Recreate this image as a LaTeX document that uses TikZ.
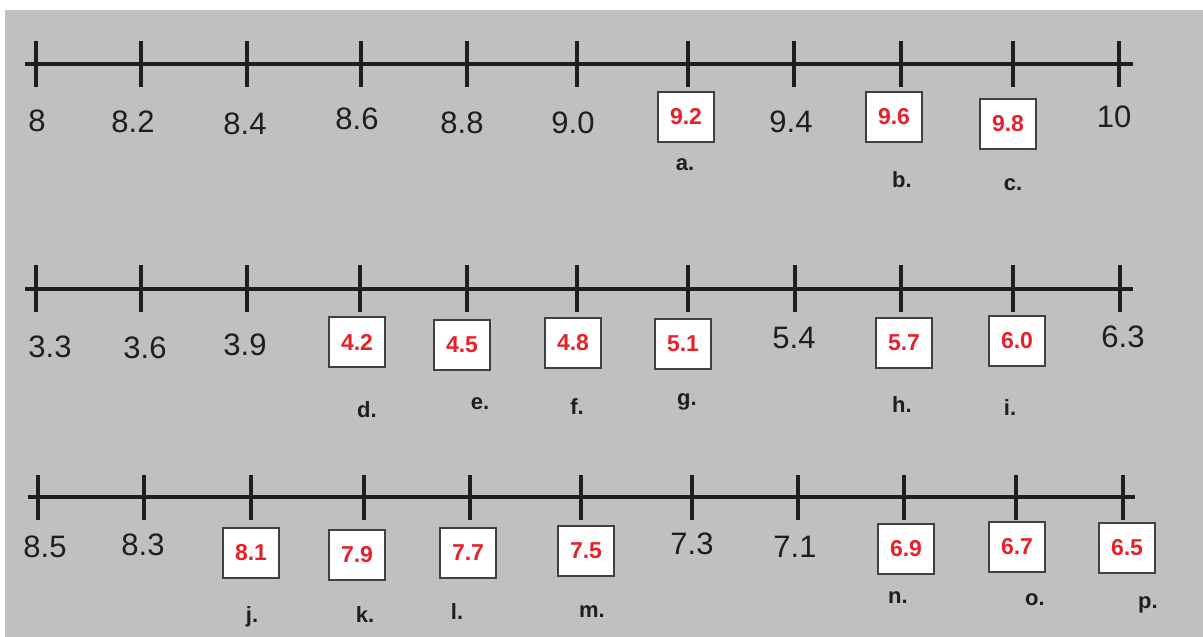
\documentclass[tikz,border=0pt]{standalone}
\usepackage{fontspec}
\setmainfont{Liberation Sans}
\definecolor{bg}{HTML}{C0C0C0}
\definecolor{ans}{HTML}{E8202A}
\definecolor{ink}{HTML}{1E1E1E}
\begin{document}
\begin{tikzpicture}[x=1pt,y=-1pt,
  axis/.style={line width=3.6pt,draw=ink},
  tick/.style={line width=3.8pt,draw=ink},
  val/.style={font=\fontsize{31}{31}\selectfont,text=ink,inner sep=0pt},
  ansbox/.style={draw=ink!85,line width=1.5pt,fill=white,minimum width=56pt,minimum height=50pt,inner sep=0pt,font=\fontsize{23}{23}\selectfont\bfseries,text=ans},
  lett/.style={font=\fontsize{22}{22}\selectfont\bfseries,text=ink,inner sep=0pt}]
\useasboundingbox (0,0) rectangle (1203,637);
\fill[white] (0,0) rectangle (1203,637);
\fill[bg] (5,10) rectangle (1203,637);
% ---------- row 1 ----------
\coordinate (r1s) at (25,64);
\coordinate (r1e) at (1133,64);
\draw[axis] (r1s) -- (r1e);
\foreach \x in {36,141,247,361,467,577,688,794,901,1013,1119}
  \draw[tick] (\x,41) -- (\x,87);
\node[val] (v8) at (37,121) {8};
\node[val] (v82) at (133,122) {8.2};
\node[val] (v84) at (245,124) {8.4};
\node[val] (v86) at (357,119) {8.6};
\node[val] (v88) at (462,123) {8.8};
\node[val] (v90) at (573,123) {9.0};
\node[ansbox] (ba) at (686,117) {9.2};
\node[val] (v94) at (791,122) {9.4};
\node[ansbox] (bb) at (894,117) {9.6};
\node[ansbox] (bc) at (1008,124) {9.8};
\node[val] (v10) at (1114,117) {10};
\node[lett] (la) at (685,165) {a.};
\node[lett] (lb) at (902,180) {b.};
\node[lett] (lc) at (1013,185) {c.};
% ---------- row 2 ----------
\coordinate (r2s) at (25,289);
\coordinate (r2e) at (1133,289);
\draw[axis] (r2s) -- (r2e);
\foreach \x in {36,141,247,360,467,577,688,795,901,1013,1120}
  \draw[tick] (\x,265) -- (\x,312);
\node[val] (v33) at (50,347) {3.3};
\node[val] (v36) at (145,348) {3.6};
\node[val] (v39) at (245,345) {3.9};
\node[ansbox] (bd) at (357,342) {4.2};
\node[ansbox] (be) at (462,345) {4.5};
\node[ansbox] (bf) at (573,343) {4.8};
\node[ansbox] (bg) at (683,344) {5.1};
\node[val] (v54) at (794,338) {5.4};
\node[ansbox] (bh) at (904,343) {5.7};
\node[ansbox] (bi) at (1017,341) {6.0};
\node[val] (v63) at (1123,337) {6.3};
\node[lett] (ld) at (367,410) {d.};
\node[lett] (le) at (480,404) {e.};
\node[lett] (lf) at (577,407) {f.};
\node[lett] (lg) at (687,402) {g.};
\node[lett] (lh) at (902,405) {h.};
\node[lett] (li) at (1010,408) {i.};
% ---------- row 3 ----------
\coordinate (r3s) at (28,497);
\coordinate (r3e) at (1135,497);
\draw[axis] (r3s) -- (r3e);
\foreach \x in {38,144,251,364,470,581,692,798,904,1016,1123}
  \draw[tick] (\x,475) -- (\x,520);
\node[val] (v85) at (45,547) {8.5};
\node[val] (v83) at (143,545) {8.3};
\node[ansbox] (bj) at (251,553) {8.1};
\node[ansbox] (bk) at (357,555) {7.9};
\node[ansbox] (bl) at (468,553) {7.7};
\node[ansbox] (bm) at (586,551) {7.5};
\node[val] (v73) at (692,544) {7.3};
\node[val] (v71) at (795,547) {7.1};
\node[ansbox] (bn) at (906,549) {6.9};
\node[ansbox] (bo) at (1017,547) {6.7};
\node[ansbox] (bp) at (1127,548) {6.5};
\node[lett] (lj) at (252,617) {j.};
\node[lett] (lk) at (365,615) {k.};
\node[lett] (ll) at (457,612) {l.};
\node[lett] (lm) at (592,612) {m.};
\node[lett] (ln) at (898,598) {n.};
\node[lett] (lo) at (1035,600) {o.};
\node[lett] (lp) at (1148,605) {p.};
\end{tikzpicture}
\end{document}
